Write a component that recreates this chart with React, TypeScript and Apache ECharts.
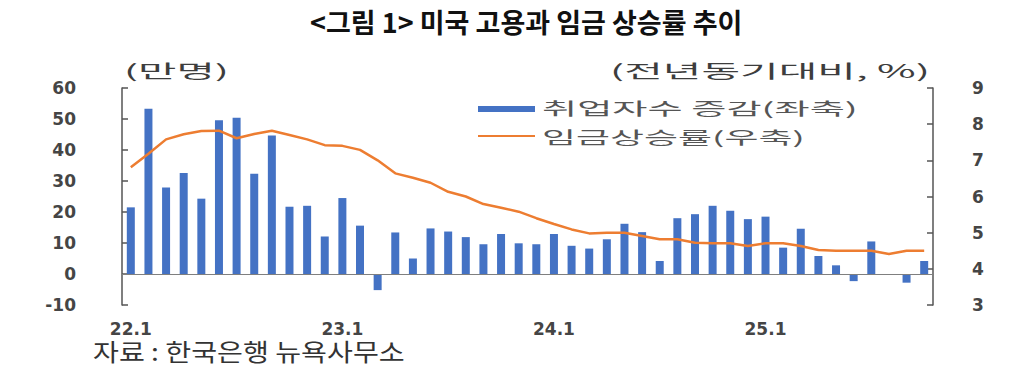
import React, { useEffect, useRef } from "react";
import * as echarts from "echarts";

const categories = [
  "22.1", "22.2", "22.3", "22.4", "22.5", "22.6", "22.7", "22.8", "22.9", "22.10", "22.11", "22.12",
  "23.1", "23.2", "23.3", "23.4", "23.5", "23.6", "23.7", "23.8", "23.9", "23.10", "23.11", "23.12",
  "24.1", "24.2", "24.3", "24.4", "24.5", "24.6", "24.7", "24.8", "24.9", "24.10", "24.11", "24.12",
  "25.1", "25.2", "25.3", "25.4", "25.5", "25.6", "25.7", "25.8", "25.9", "25.10",
];

// 취업자수 증감 (만명, 좌축)
const employmentChange = [
  21.5, 53.3, 27.9, 32.6, 24.3, 49.6, 50.4, 32.3, 44.7, 21.7, 22.0, 12.1,
  24.5, 15.6, -5.2, 13.4, 5.0, 14.7, 13.7, 11.9, 9.6, 12.9, 9.9, 9.6,
  12.9, 9.1, 8.2, 11.2, 16.2, 13.5, 4.2, 18.0, 19.3, 22.0, 20.4, 17.7,
  18.5, 8.5, 14.6, 5.8, 2.8, -2.3, 10.5, 0, -2.8, 4.2,
];

// 임금상승률 (전년동기대비 %, 우축)
const wageGrowth = [
  6.81, 7.18, 7.58, 7.72, 7.81, 7.82, 7.61, 7.73, 7.82, 7.7, 7.58, 7.42,
  7.4, 7.29, 7.0, 6.64, 6.52, 6.38, 6.13, 6.0, 5.79, 5.69, 5.58, 5.4,
  5.24, 5.09, 4.98, 5.0, 5.0, 4.91, 4.82, 4.82, 4.72, 4.71, 4.71, 4.63,
  4.71, 4.71, 4.63, 4.52, 4.5, 4.5, 4.5, 4.41, 4.5, 4.5,
];

const leftAxis = { min: -10, max: 60, interval: 10 };
const rightAxis = { min: 3, max: 9, interval: 1 };

const TITLE = "<그림 1> 미국 고용과 임금 상승률 추이";
const LEFT_UNIT = "(만명)";
const RIGHT_UNIT = "(전년동기대비, %)";
const SOURCE = "자료 : 한국은행 뉴욕사무소";
const BAR_NAME = "취업자수 증감(좌축)";
const LINE_NAME = "임금상승률(우축)";

const KR = "Noto Sans CJK KR";
const BLUE = "#4472C4";
const ORANGE = "#ED7D31";

function measure(text: string, font: string): number {
  const ctx = document.createElement("canvas").getContext("2d");
  if (!ctx) return 100;
  ctx.font = font;
  return ctx.measureText(text).width || 100;
}

function stretchedText(
  text: string,
  x: number,
  y: number,
  targetWidth: number,
  fontSize: number,
  fontWeight: string,
  fill: string
) {
  const w = measure(text, `${fontWeight} ${fontSize}px "${KR}"`);
  return {
    type: "text",
    x,
    y,
    scaleX: targetWidth / w,
    silent: true,
    style: {
      text,
      fontSize,
      fontWeight,
      fontFamily: KR,
      fill,
      align: "left",
      verticalAlign: "middle",
    },
  };
}

export default function App() {
  const ref = useRef<HTMLDivElement>(null);

  useEffect(() => {
    document.body.style.margin = "0";
    if (!ref.current) return;
    const chart = echarts.init(ref.current, undefined, { renderer: "svg" });

    const titleW = measure(TITLE, `bold 27px "${KR}"`);

    const axisLabelStyle = {
      fontFamily: "DejaVu Sans",
      fontWeight: "bold" as const,
      fontSize: 17,
      color: "#454545",
    };

    chart.setOption({
      animation: false,
      title: {
        text: TITLE,
        left: Math.round(526 - titleW / 2),
        top: 8,
        padding: 0,
        textStyle: { fontSize: 27, fontWeight: "bold", fontFamily: KR, color: "#111" },
      },
      grid: { left: 122, right: 79, top: 88, bottom: 77 },
      xAxis: {
        type: "category",
        data: categories,
        boundaryGap: true,
        axisLine: { show: false, onZero: false },
        axisTick: { show: false },
        splitLine: { show: false },
        axisLabel: { interval: 11, margin: 15, ...axisLabelStyle },
      },
      yAxis: [
        {
          type: "value",
          position: "left",
          min: leftAxis.min,
          max: leftAxis.max,
          interval: leftAxis.interval,
          axisLine: { show: true, lineStyle: { color: "#555", width: 1.5 } },
          axisTick: { show: true, inside: true, length: 6, lineStyle: { color: "#555", width: 1.5 } },
          splitLine: { show: false },
          axisLabel: { margin: 46, ...axisLabelStyle },
        },
        {
          type: "value",
          position: "right",
          min: rightAxis.min,
          max: rightAxis.max,
          interval: rightAxis.interval,
          axisLine: { show: true, lineStyle: { color: "#555", width: 1.5 } },
          axisTick: { show: true, inside: true, length: 6, lineStyle: { color: "#555", width: 1.5 } },
          splitLine: { show: false },
          axisLabel: { margin: 39, ...axisLabelStyle },
        },
      ],
      series: [
        {
          name: BAR_NAME,
          type: "bar",
          data: employmentChange,
          barWidth: 8,
          itemStyle: { color: BLUE },
          z: 2,
          markLine: {
            silent: true,
            symbol: ["none", "none"],
            label: { show: false },
            lineStyle: { color: "#7f7f7f", width: 1, type: "solid" },
            data: [{ yAxis: 0 }],
          },
        },
        {
          name: LINE_NAME,
          type: "line",
          yAxisIndex: 1,
          data: wageGrowth,
          symbol: "none",
          showSymbol: false,
          lineStyle: { color: ORANGE, width: 2.5 },
          itemStyle: { color: ORANGE },
          z: 3,
        },
      ],
      graphic: [
        stretchedText(LEFT_UNIT, 124, 70, 105, 18, "normal", "#3d3d3d"),
        stretchedText(RIGHT_UNIT, 610, 70, 320, 18, "normal", "#3d3d3d"),
        {
          type: "rect",
          silent: true,
          shape: { x: 478, y: 106, width: 57, height: 6 },
          style: { fill: BLUE },
        },
        stretchedText(BAR_NAME, 542, 108, 316, 17, "normal", "#555"),
        {
          type: "line",
          silent: true,
          shape: { x1: 478, y1: 136, x2: 535, y2: 136 },
          style: { stroke: ORANGE, lineWidth: 2 },
        },
        stretchedText(LINE_NAME, 542, 137, 263, 17, "normal", "#555"),
        stretchedText(SOURCE, 93, 351, 312, 24, "normal", "#333"),
      ],
    });

    return () => {
      chart.dispose();
    };
  }, []);

  return (
    <div
      ref={ref}
      style={{ position: "fixed", left: 0, top: 0, width: 1012, height: 382, background: "#fff" }}
    />
  );
}
